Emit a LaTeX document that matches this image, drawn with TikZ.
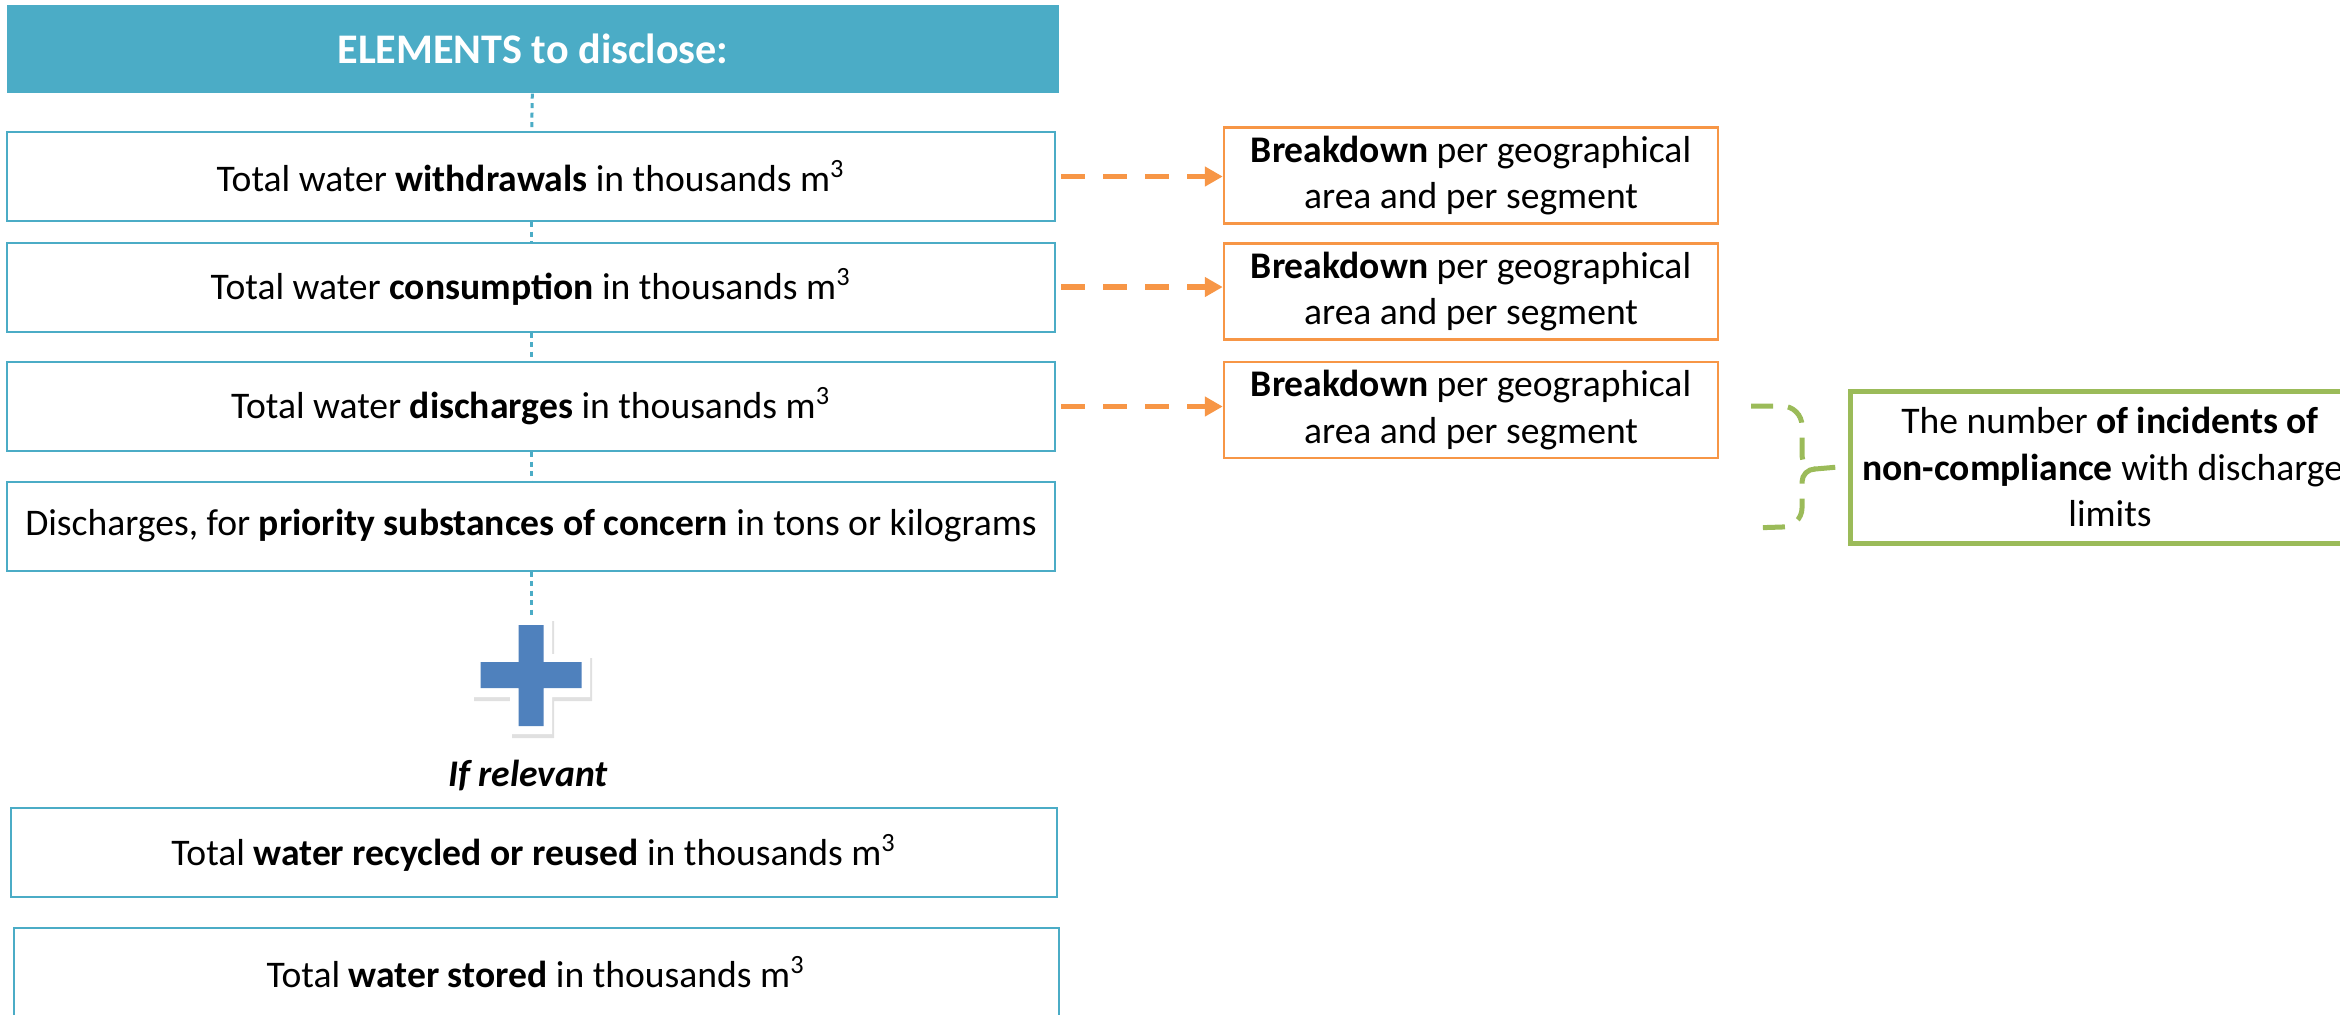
\documentclass[tikz,border=0pt]{standalone}
\usepackage{fontspec}
\setmainfont{Carlito}
\usetikzlibrary{arrows.meta}
\definecolor{elemteal}{HTML}{4BACC6}
\definecolor{breakorange}{HTML}{F79646}
\definecolor{limitgreen}{HTML}{9BBB59}
\definecolor{plusblue}{HTML}{4F81BD}
\tikzset{
  item/.style={draw=elemteal, line width=0.2mm, minimum width=104.8mm, minimum height=8.9mm, inner sep=0pt, align=center},
  split/.style={draw=breakorange, line width=0.25mm, minimum width=49.4mm, minimum height=9.6mm, inner sep=0pt, align=center},
  link/.style={elemteal, line width=0.3mm, dash pattern=on 0.5mm off 0.45mm},
  flow/.style={breakorange, line width=0.53mm, dash pattern=on 2.4mm off 1.8mm, -{Triangle[length=1.8mm,width=1.9mm]}, shorten <=0.5mm},
  brace/.style={limitgreen, line width=0.5mm, dash pattern=on 2.2mm off 1.5mm},
}
\begin{document}
\begin{tikzpicture}[x=0.1mm, y=-0.1mm, font=\fontsize{10.7}{13.2}\selectfont]
\useasboundingbox (0,0) rectangle (2340,1014);
\clip (0,0) rectangle (2340,1014);
% Elements to disclose
\node[fill=elemteal, text=white, minimum width=105.2mm, minimum height=8.8mm, font=\fontsize{12}{14}\selectfont] (head) at (533,49) {\textbf{ELEMENTS to disclose:}};
\node[item] (withdraw) at (531,176.5) {Total water \textbf{withdrawals} in thousands m\textsuperscript{3}};
\node[item] (consume) at (531,287) {Total water \textbf{consumption} in thousands m\textsuperscript{3}};
\node[item] (discharge) at (531,406.5) {Total water \textbf{discharges} in thousands m\textsuperscript{3}};
\node[item] (subst) at (531,526) {Discharges, for \textbf{priority substances of concern} in tons or kilograms};
\draw[link] (head) -- (withdraw);
\draw[link] (withdraw) -- (consume);
\draw[link] (consume) -- (discharge);
\draw[link] (discharge) -- (subst);
% Plus sign
\node[minimum width=11.8mm, minimum height=11.7mm, inner sep=0pt] (plus) at (531,675.5) {};
\draw[link] (subst) -- (plus);
\fill[black!40, opacity=.3] (512,621) rectangle (554,738) (474,658) rectangle (592,701);
\fill[white] (510,617) rectangle (552,734) (472,654) rectangle (590,697);
\fill[plusblue] (518.5,625) rectangle (543.5,726) (480.5,662) rectangle (581.5,688);
\node (ifrel) at (528,775) {\textbf{\textit{If relevant}}};
\node[item, minimum width=104.6mm] (recycle) at (534,852.5) {Total \textbf{water recycled or reused} in thousands m\textsuperscript{3}};
\node[item, minimum width=104.5mm] (stored) at (536,972.5) {Total \textbf{water stored} in thousands m\textsuperscript{3}};
% Breakdowns
\node[split] (split1) at (1471,175.5) {\textbf{Breakdown} per geographical\\area and per segment};
\node[split] (split2) at (1471,291.5) {\textbf{Breakdown} per geographical\\area and per segment};
\node[split] (split3) at (1471,410) {\textbf{Breakdown} per geographical\\area and per segment};
\draw[flow] (withdraw.east) -- (split1.west |- withdraw.east);
\draw[flow] (consume.east) -- (split2.west |- consume.east);
\draw[flow] (discharge.east) -- (split3.west |- discharge.east);
% Non-compliance
\node[draw=limitgreen, line width=0.5mm, minimum width=50mm, minimum height=15.2mm, align=center] (limits) at (2110,467) {The number \textbf{of incidents of}\\\textbf{non-compliance} with discharges\\limits};
\draw[brace] (1751,406) -- (1782,406) to[out=0,in=90] (1802,426) -- (1802,456) to[out=-90,in=180] (1815,469) -- ([xshift=-1mm]limits.west);
\draw[brace] (1815,469) to[out=180,in=90] (1802,482) -- (1802,508) to[out=-90,in=0] (1782,527) -- (1751,528);
\end{tikzpicture}
\end{document}
